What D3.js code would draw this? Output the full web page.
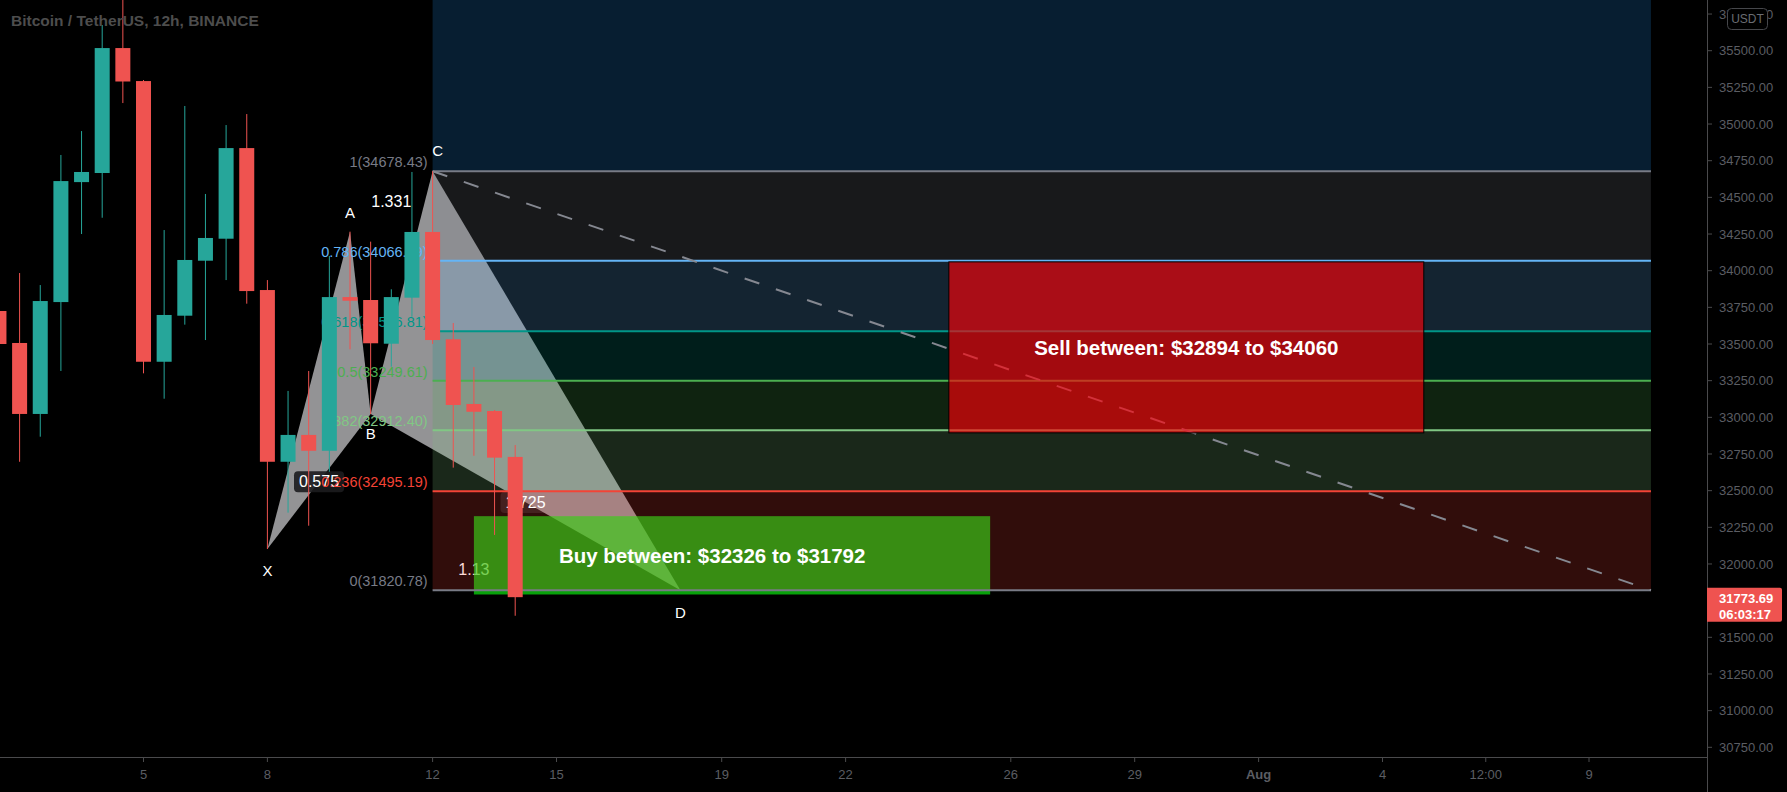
<!DOCTYPE html>
<html><head><meta charset="utf-8">
<script src="https://cdn.jsdelivr.net/npm/d3@7"></script>
<style>html,body{margin:0;padding:0;background:#000;overflow:hidden}</style>
</head><body>
<svg id="c" width="1787" height="792"></svg>
<script>
// ---------------- DATA ----------------
const title = "Bitcoin / TetherUS, 12h, BINANCE";
const candleTimes = ["2021-07-01T12:00Z","2021-07-02T00:00Z","2021-07-02T12:00Z","2021-07-03T00:00Z","2021-07-03T12:00Z",
  "2021-07-04T00:00Z","2021-07-04T12:00Z","2021-07-05T00:00Z","2021-07-05T12:00Z","2021-07-06T00:00Z","2021-07-06T12:00Z",
  "2021-07-07T00:00Z","2021-07-07T12:00Z","2021-07-08T00:00Z","2021-07-08T12:00Z","2021-07-09T00:00Z","2021-07-09T12:00Z",
  "2021-07-10T00:00Z","2021-07-10T12:00Z","2021-07-11T00:00Z","2021-07-11T12:00Z","2021-07-12T00:00Z","2021-07-12T12:00Z",
  "2021-07-13T00:00Z","2021-07-13T12:00Z","2021-07-14T00:00Z"];
const opens  = [33725,33507,33023,33786,34604,34666,35518,35293,33379,33693,34068,34218,34836,33868,32697,32880,32772,33820,33800,33502,33816,34264,33532,33091,33043,32730];
const highs  = [33800,33984,33902,34789,34952,35675,35950,35300,34277,35123,34523,34993,35068,33936,33180,33316,34100,34266,34198,33873,34673,34678.43,33643,33343,33050,32811];
const lows   = [33400,32697,32868,33316,34250,34361,35143,33300,33127,33632,33527,33936,33775,32102,32350,32261,32629,33464,33022,33345,33686,33500,32657,32738,32198,31647];
const closes = [33500,33023,33793,34611,34673,35518,35290,33379,33698,34073,34223,34836,33861,32697,32880,32772,33820,33795,33505,33820,34264,33527,33084,33038,32725,31773.69];

const patternNames  = ["X","A","B","C","D"];
const patternTimes  = ["2021-07-08T00:00Z","2021-07-10T00:00Z","2021-07-10T12:00Z","2021-07-12T00:00Z","2021-07-18T00:00Z"];
const patternPrices = [32102,34266,33022,34678.43,31820.78];
const ratioFrom   = ["X","A","B","X"];
const ratioTo     = ["B","C","D","D"];
const ratioLabels = ["0.575","1.331","1.725","1.13"];

const fibHigh = 34678.43, fibLow = 31820.78;
const fibStart = "2021-07-12T00:00Z", fibEnd = "2021-08-10T12:00Z";
const fibLevels = [0,0.236,0.382,0.5,0.618,0.786,1,1.618];
const fibColors = ["#787b86","#f44336","#81c784","#4caf50","#009688","#64b5f6","#787b86","#2196f3"];

const buyZone  = {t0:"2021-07-13T00:00Z", t1:"2021-07-25T12:00Z", top:32326, bottom:31792, text:"Buy between: $32326 to $31792"};
const sellZone = {t0:"2021-07-24T12:00Z", t1:"2021-08-05T00:00Z", top:34060, bottom:32894, text:"Sell between: $32894 to $34060"};

const yTicks = [30750,31000,31250,31500,31750,32000,32250,32500,32750,33000,33250,33500,33750,34000,34250,34500,34750,35000,35250,35500,35750];
const xTickDates  = ["2021-07-05T00:00Z","2021-07-08T00:00Z","2021-07-12T00:00Z","2021-07-15T00:00Z","2021-07-19T00:00Z","2021-07-22T00:00Z",
  "2021-07-26T00:00Z","2021-07-29T00:00Z","2021-08-01T00:00Z","2021-08-04T00:00Z","2021-08-06T12:00Z","2021-08-09T00:00Z"];
const xTickLabels = ["5","8","12","15","19","22","26","29","Aug","4","12:00","9"];
const lastPrice = 31773.69, countdown = "06:03:17", currency = "USDT";

// ---------------- SCALES ----------------
const W = 1787, H = 792, plotW = 1707, plotH = 757;
const P = s => new Date(s);
const x = d3.scaleUtc().domain([P("2021-07-05T00:00Z"), P("2021-08-09T00:00Z")]).range([143.5, 1589]);
const y = d3.scaleLinear().domain([30750, 35500]).range([747.3, 50.7]);
const FONT = "'Liberation Sans', Arial, sans-serif";

const svg = d3.select("#c");
svg.append("rect").attr("width", W).attr("height", H).attr("fill", "#000");
svg.append("defs").append("clipPath").attr("id","plot").append("rect").attr("width", plotW).attr("height", plotH);
const plot = svg.append("g").attr("clip-path","url(#plot)");

const L = {};
["under","tri","under2","buy","fib","lines","trend","sell","texts","ratio","fiblab","pts","candles"].forEach(k => L[k] = plot.append("g"));

const pts = patternNames.map((n,i) => ({n, t:P(patternTimes[i]), p:patternPrices[i], x:x(P(patternTimes[i])), y:y(patternPrices[i])}));
const byName = Object.fromEntries(pts.map(d => [d.n, d]));

// triangles XAB and BCD
[["X","A","B"],["B","C","D"]].forEach(tr => {
  L.tri.append("path")
    .attr("d", d3.line()(tr.map(n => [byName[n].x, byName[n].y])) + "Z")
    .attr("fill", "#939395");
});

// ratio labels
ratioLabels.forEach((lab, i) => {
  const a = byName[ratioFrom[i]], b = byName[ratioTo[i]];
  const mx = (a.x + b.x) / 2, my = (a.y + b.y) / 2;
  const layer = lab === "1.13" ? L.under2 : L.ratio;
  const t = layer.append("text").attr("x", mx).attr("y", my).attr("dy", "0.36em")
    .attr("text-anchor", "middle").attr("font-family", FONT).attr("font-size", 16)
    .attr("fill", "#ffffff").text(lab);
  if (lab === "0.575" || lab === "1.725") {
    const bb = t.node().getBBox();
    const target = lab === "1.725" ? L.under : L.ratio;
    const r = (lab === "1.725" ? target.append("rect") : target.insert("rect", "text"))
      .attr("x", bb.x - 5).attr("y", bb.y - 2).attr("width", bb.width + 10).attr("height", bb.height + 4)
      .attr("rx", 4).attr("fill", "#1c1c1e").attr("fill-opacity", 0.9);
    if (lab === "0.575") t.raise();
  }
});

// buy zone (under fib fill)
L.buy.append("rect")
  .attr("x", x(P(buyZone.t0))).attr("y", y(buyZone.top))
  .attr("width", x(P(buyZone.t1)) - x(P(buyZone.t0))).attr("height", y(buyZone.bottom) - y(buyZone.top))
  .attr("fill", "rgb(13,240,16)").attr("fill-opacity", 0.67);

// fib zones & lines
const fx0 = x(P(fibStart)), fx1 = x(P(fibEnd));
const fibPrice = l => fibLow + l * (fibHigh - fibLow);
for (let i = 0; i < fibLevels.length - 1; i++) {
  const yTop = y(fibPrice(fibLevels[i+1])), yBot = y(fibPrice(fibLevels[i]));
  L.fib.append("rect").attr("x", fx0).attr("y", yTop).attr("width", fx1 - fx0).attr("height", yBot - yTop)
    .attr("fill", fibColors[i+1]).attr("fill-opacity", 0.2);
}
fibLevels.forEach((l, i) => {
  const yy = y(fibPrice(l));
  L.lines.append("line").attr("x1", fx0).attr("x2", fx1).attr("y1", yy).attr("y2", yy)
    .attr("stroke", fibColors[i]).attr("stroke-width", 2);
  const v = (Math.round(fibPrice(l) * 100 + 1e-6) / 100).toFixed(2);
  L.fiblab.append("text").attr("x", fx0 - 5).attr("y", yy - 4).attr("text-anchor", "end")
    .attr("font-family", FONT).attr("font-size", 14.5).attr("fill", fibColors[i])
    .text(String(l) + "(" + v + ")");
});

// trend line of the fib tool
L.trend.append("line")
  .attr("x1", fx0).attr("y1", y(fibHigh)).attr("x2", fx1).attr("y2", y(fibLow))
  .attr("stroke", "#858891").attr("stroke-width", 2).attr("stroke-dasharray", "15.5,17.5");

// sell zone (over fib)
L.sell.append("rect")
  .attr("x", x(P(sellZone.t0))).attr("y", y(sellZone.top))
  .attr("width", x(P(sellZone.t1)) - x(P(sellZone.t0))).attr("height", y(sellZone.bottom) - y(sellZone.top))
  .attr("fill", "rgb(255,0,10)").attr("fill-opacity", 0.64).attr("stroke", "#000").attr("stroke-width", 1);

L.texts.append("text")
  .attr("x", (x(P(sellZone.t0)) + x(P(sellZone.t1))) / 2).attr("y", (y(sellZone.top) + y(sellZone.bottom)) / 2)
  .attr("dy", "0.36em").attr("text-anchor", "middle").attr("font-family", FONT).attr("font-weight", "bold")
  .attr("font-size", 20.5).attr("fill", "#fff").text(sellZone.text);
L.texts.append("text")
  .attr("x", x(P(buyZone.t0)) + 85).attr("y", (y(buyZone.top) + y(buyZone.bottom)) / 2)
  .attr("dy", "0.36em").attr("text-anchor", "start").attr("font-family", FONT).attr("font-weight", "bold")
  .attr("font-size", 20.5).attr("fill", "#fff").text(buyZone.text);

// pattern point labels
const ptOff = {X:[0,22], A:[0,-19], B:[0,19], C:[5,-21], D:[0,22]};
pts.forEach(d => {
  L.pts.append("text").attr("x", d.x + ptOff[d.n][0]).attr("y", d.y + ptOff[d.n][1]).attr("dy", "0.36em")
    .attr("text-anchor", "middle").attr("font-family", FONT).attr("font-size", 15).attr("fill", "#fff").text(d.n);
});

// candles
const candles = candleTimes.map((t, i) => ({t:P(t), o:opens[i], h:highs[i], l:lows[i], c:closes[i]}));
const up = "#26a69a", dn = "#ef5350", bw = 15;
const cg = L.candles.selectAll("g").data(candles).join("g");
cg.append("line").attr("x1", d => x(d.t)).attr("x2", d => x(d.t))
  .attr("y1", d => y(d.h)).attr("y2", d => y(d.l))
  .attr("stroke", d => d.c >= d.o ? up : dn).attr("stroke-width", 1);
cg.append("rect").attr("x", d => x(d.t) - bw / 2).attr("width", bw)
  .attr("y", d => y(Math.max(d.o, d.c)))
  .attr("height", d => Math.max(1, Math.abs(y(d.o) - y(d.c))))
  .attr("fill", d => d.c >= d.o ? up : dn);

// ---------------- AXES ----------------
const axisCol = "#4a4a4c", txtCol = "#5b5d63";
svg.append("line").attr("x1", plotW + 0.5).attr("x2", plotW + 0.5).attr("y1", 0).attr("y2", H).attr("stroke", axisCol);
svg.append("line").attr("x1", 0).attr("x2", plotW).attr("y1", plotH + 0.5).attr("y2", plotH + 0.5).attr("stroke", axisCol);

const ya = svg.append("g");
yTicks.forEach(v => {
  const yy = y(v);
  ya.append("line").attr("x1", plotW).attr("x2", plotW + 5).attr("y1", yy).attr("y2", yy).attr("stroke", axisCol);
  ya.append("text").attr("x", 1719).attr("y", yy).attr("dy", "0.36em").attr("font-family", FONT)
    .attr("font-size", 13).attr("fill", txtCol).text(d3.format(".2f")(v));
});
const xa = svg.append("g");
xTickDates.forEach((s, i) => {
  const xx = x(P(s));
  xa.append("line").attr("x1", xx).attr("x2", xx).attr("y1", plotH).attr("y2", plotH + 5).attr("stroke", axisCol);
  xa.append("text").attr("x", xx).attr("y", 774).attr("dy", "0.36em").attr("text-anchor", "middle")
    .attr("font-family", FONT).attr("font-size", 13).attr("font-weight", xTickLabels[i] === "Aug" ? "bold" : "normal")
    .attr("fill", txtCol).text(xTickLabels[i]);
});

// currency box
svg.append("rect").attr("x", 1727.5).attr("y", 8.5).attr("width", 40).attr("height", 21).attr("rx", 4)
  .attr("fill", "#000").attr("stroke", "#46474b");
svg.append("text").attr("x", 1747.5).attr("y", 19).attr("dy", "0.36em").attr("text-anchor", "middle")
  .attr("font-family", FONT).attr("font-size", 12).attr("fill", "#6a6c72").text(currency);

// last price label
const yp = y(lastPrice);
svg.append("path").attr("d", `M${plotW},${yp-9.5} H${W-7} q2,0 2,2 V${yp+22.5} q0,2 -2,2 H${plotW} Z`).attr("fill", dn);
svg.append("text").attr("x", 1719).attr("y", yp + 1).attr("dy", "0.36em").attr("font-family", FONT)
  .attr("font-size", 13).attr("font-weight", "bold").attr("fill", "#fff").text(lastPrice.toFixed(2));
svg.append("text").attr("x", 1719).attr("y", yp + 17).attr("dy", "0.36em").attr("font-family", FONT)
  .attr("font-size", 13).attr("font-weight", "bold").attr("fill", "#fff").text(countdown);

// title
svg.append("text").attr("x", 11).attr("y", 26).attr("font-family", FONT).attr("font-weight", "bold")
  .attr("font-size", 15.5).attr("fill", "#4d4d4d").text(title);
</script>
</body></html>
